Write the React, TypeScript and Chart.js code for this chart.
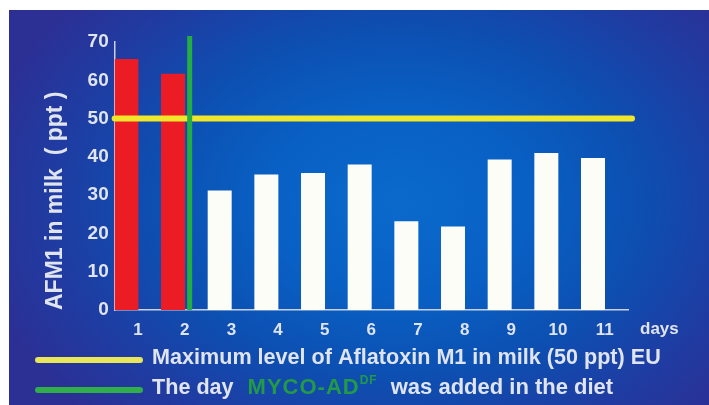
import React, { useEffect, useRef } from "react";
import Chart from "chart.js/auto";

// ---- data ----
const days: string[] = ["1", "2", "3", "4", "5", "6", "7", "8", "9", "10", "11"];
const afm1Values: number[] = [65.5, 61.6, 31.1, 35.3, 35.7, 37.9, 23.1, 21.7, 39.2, 40.9, 39.6];
const spacerValues: (number | null)[] = days.map(() => null);
const barColors: string[] = ["#ec1c24", "#ec1c24", "#fdfdf8", "#fdfdf8", "#fdfdf8", "#fdfdf8", "#fdfdf8", "#fdfdf8", "#fdfdf8", "#fdfdf8", "#fdfdf8"];
const yMin = 0;
const yMax = 70;
const yStep = 10;
const euLimit = 50;
const dietDayIndex = 1; // day 2
const yTitle = "AFM1 in milk  ( ppt )";
const xUnit = "days";
const legendLimitText = "Maximum level of Aflatoxin M1 in milk (50 ppt) EU";
const legendDayParts = ["The day", "MYCO-AD", "DF", "was added in the diet"];

const FONT = '"Liberation Sans", Arial, sans-serif';
const TEXT = "#dfe4ee";
const YELLOW = "#f0e62a";
const GREEN = "#25ad45";

const W = 709;
const H = 405;

const backdrop = {
  id: "backdrop",
  beforeDraw(chart: any) {
    const { ctx } = chart;
    const width = W;
    const height = H;
    ctx.save();
    ctx.fillStyle = "#ffffff";
    ctx.fillRect(0, 0, width, height);
    const cx = 398, cy = 203, sy = 0.72;
    ctx.translate(cx, cy);
    ctx.scale(1, sy);
    const g = ctx.createRadialGradient(0, 0, 0, 0, 0, 430);
    g.addColorStop(0, "#0a6acc");
    g.addColorStop(0.3, "#0960c4");
    g.addColorStop(0.55, "#0c50b2");
    g.addColorStop(0.8, "#1f3ca2");
    g.addColorStop(1, "#2c2f94");
    ctx.fillStyle = g;
    ctx.fillRect(9 - cx, (10 - cy) / sy, width + 20, height / sy + 20);
    ctx.restore();
  },
};

const overlay = {
  id: "overlay",
  afterDatasetsDraw(chart: any) {
    const { ctx, chartArea, scales } = chart;
    const yS = scales.y;
    const xS = scales.x;
    ctx.save();
    // EU limit line
    const yl = yS.getPixelForValue(euLimit);
    ctx.strokeStyle = YELLOW;
    ctx.lineWidth = 6;
    ctx.lineCap = "round";
    ctx.beginPath();
    ctx.moveTo(chartArea.left, yl);
    ctx.lineTo(chartArea.right + 4, yl);
    ctx.stroke();
    // diet change day line
    const xd = xS.getPixelForValue(dietDayIndex) + 5;
    ctx.strokeStyle = GREEN;
    ctx.lineWidth = 5;
    ctx.lineCap = "butt";
    ctx.beginPath();
    ctx.moveTo(xd, chartArea.top - 6);
    ctx.lineTo(xd, chartArea.bottom);
    ctx.stroke();
    ctx.restore();
  },
  afterDraw(chart: any) {
    const { ctx, chartArea } = chart;
    ctx.save();
    // unit label
    ctx.fillStyle = TEXT;
    ctx.font = `bold 17px ${FONT}`;
    ctx.textBaseline = "middle";
    ctx.textAlign = "left";
    ctx.fillText(xUnit, chartArea.right + 12, chartArea.bottom + 19);

    // legend
    const lx0 = 38, lx1 = 140, tx = 152;
    const y1 = 360, y2 = 390;
    ctx.lineWidth = 6;
    ctx.lineCap = "round";
    ctx.strokeStyle = "#e9e65a";
    ctx.beginPath();
    ctx.moveTo(lx0, y1);
    ctx.lineTo(lx1, y1);
    ctx.stroke();
    ctx.strokeStyle = "#2fae4a";
    ctx.beginPath();
    ctx.moveTo(lx0, y2);
    ctx.lineTo(lx1, y2);
    ctx.stroke();

    ctx.font = `bold 21.6px ${FONT}`;
    ctx.fillStyle = TEXT;
    ctx.fillText(legendLimitText, tx, y1 - 2);

    let x = tx;
    ctx.fillText(legendDayParts[0], x, y2 - 2);
    x += ctx.measureText(legendDayParts[0]).width + 14;
    ctx.fillStyle = "#229a46";
    ctx.font = `bold 22px ${FONT}`;
    (ctx as any).letterSpacing = "1px";
    ctx.fillText(legendDayParts[1], x, y2 - 2);
    x += ctx.measureText(legendDayParts[1]).width;
    ctx.font = `bold 12px ${FONT}`;
    ctx.fillText(legendDayParts[2], x, y2 - 9);
    x += ctx.measureText(legendDayParts[2]).width;
    (ctx as any).letterSpacing = "0px";
    x = Math.max(x + 13, 388);
    ctx.fillStyle = TEXT;
    ctx.font = `bold 22px ${FONT}`;
    ctx.fillText(legendDayParts[3], x, y2 - 2);
    ctx.restore();
  },
};

export default function App() {
  const ref = useRef<HTMLCanvasElement | null>(null);
  useEffect(() => {
    if (!ref.current) return;
    const chart = new Chart(ref.current, {
      type: "bar",
      data: {
        labels: days,
        datasets: [
          { data: afm1Values, backgroundColor: barColors, borderWidth: 0 },
          { data: spacerValues, backgroundColor: "rgba(0,0,0,0)", borderWidth: 0 },
        ],
      },
      options: {
        responsive: false,
        animation: false,
        devicePixelRatio: 1,
        layout: { padding: { left: 42, top: 42, right: 81, bottom: 0 } },
        datasets: { bar: { categoryPercentage: 1, barPercentage: 1 } },
        plugins: { legend: { display: false }, tooltip: { enabled: false } },
        scales: {
          x: {
            grid: { display: false, drawTicks: false },
            border: { display: true, color: "#c9d2e4", width: 1.5 },
            ticks: { color: TEXT, font: { family: FONT, size: 17, weight: "bold" }, padding: 10, maxRotation: 0 },
            afterFit(scale: any) { scale.height = 95; },
          },
          y: {
            min: yMin,
            max: yMax,
            grid: { display: false, drawTicks: false },
            border: { display: true, color: "#c9d2e4", width: 1.5 },
            ticks: { stepSize: yStep, color: TEXT, font: { family: FONT, size: 19, weight: "bold" }, padding: 6 },
            title: {
              display: true,
              text: yTitle,
              align: "start",
              color: TEXT,
              font: { family: FONT, size: 23, weight: "bold" },
              padding: 0,
            },
            afterFit(scale: any) { scale.width = 72.7; },
          },
        },
      },
      plugins: [backdrop, overlay],
    } as any);
    return () => chart.destroy();
  }, []);
  return (
    <div style={{ position: "fixed", left: 0, top: 0, right: 0, bottom: 0, background: "#2c2f94" }}>
      <canvas ref={ref} width={W} height={H} style={{ display: "block", width: W, height: H }} />
    </div>
  );
}
